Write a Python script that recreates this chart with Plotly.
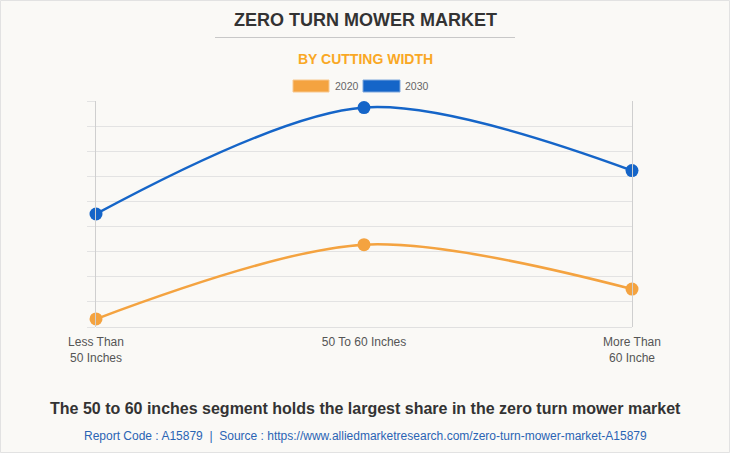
import plotly.graph_objects as go

categories = ["Less Than<br>50 Inches", "50 To 60 Inches", "More Than<br>60 Inche"]
values_2020 = [32, 328, 151]
values_2030 = [450, 874, 623]
series_names = ["2020", "2030"]
colors = ["#F4A340", "#1565C8"]

W, H = 730, 453
ml, mr, mt, mb = 96, 98, 101, 126
pw, ph = W - ml - mr, H - mt - mb

def px(x):
    return (x - ml) / pw

def py(y):
    return (H - mb - y) / ph

fig = go.Figure()
for name, vals, col in zip(series_names, [values_2020, values_2030], colors):
    fig.add_trace(go.Scatter(
        x=categories, y=vals, name=name, mode="lines+markers",
        line=dict(color=col, width=2.5, shape="spline", smoothing=0.9),
        marker=dict(color=col, size=13),
        cliponaxis=False, showlegend=False,
    ))

font = "Arial, Liberation Sans, sans-serif"

def ann(text, x, y, size, color, xanchor="center"):
    return dict(text=text, x=px(x), y=py(y), xref="paper", yref="paper", showarrow=False,
                xanchor=xanchor, yanchor="middle", font=dict(family=font, size=size, color=color))

annotations = [
    ann("<b>ZERO TURN MOWER MARKET</b>", 365, 20, 18, "#333333"),
    ann("<b>BY CUTTING WIDTH</b>", 365, 59, 14, "#F9A825"),
    ann(series_names[0], 333, 86, 10.5, "#666666", "left"),
    ann(series_names[1], 403, 86, 10.5, "#666666", "left"),
    ann("<b>The 50 to 60 inches segment holds the largest share in the zero turn mower market</b>",
        365, 408, 16, "#333333"),
    ann("Report Code : A15879  |  Source : https://www.alliedmarketresearch.com/zero-turn-mower-market-A15879",
        365, 436, 12, "#2A64B4"),
]

shapes = [
    dict(type="line", xref="paper", yref="paper", x0=px(215), x1=px(515), y0=py(37.5), y1=py(37.5),
         line=dict(color="#C8C8C8", width=1)),
    dict(type="rect", xref="paper", yref="paper", x0=px(293), x1=px(329), y0=py(80), y1=py(92),
         fillcolor=colors[0], line=dict(color="#F8C88E", width=1)),
    dict(type="rect", xref="paper", yref="paper", x0=px(363), x1=px(400), y0=py(80), y1=py(92),
         fillcolor=colors[1], line=dict(color="#7FA8DD", width=1)),
    dict(type="rect", xref="paper", yref="paper", x0=px(0.5), x1=px(W - 0.5), y0=py(0.5), y1=py(H - 0.5),
         fillcolor="rgba(0,0,0,0)", line=dict(color="#E2E2E2", width=1), layer="below"),
]

fig.update_layout(
    width=W, height=H,
    margin=dict(l=ml, r=mr, t=mt, b=mb),
    paper_bgcolor="#FAF9F6", plot_bgcolor="#FAF9F6",
    annotations=annotations, shapes=shapes,
    xaxis=dict(range=[0, 2], showgrid=False, zeroline=False, showline=False,
               tickfont=dict(family=font, size=12, color="#555555"), ticks="",
               ticklabelstandoff=6),
    yaxis=dict(range=[0, 900], dtick=100, showgrid=True, gridcolor="#E3E3E3", gridwidth=1,
               zeroline=True, zerolinecolor="#E0E0E0", zerolinewidth=1,
               showticklabels=False, ticks="outside", ticklen=8,
               tickcolor="#E3E3E3", showline=True, linecolor="#CFCFCF", mirror=True),
)

fig.write_html("out.html", config={"displayModeBar": False},
               post_script="document.body.style.margin='0';document.body.style.background='#FAF9F6';")
